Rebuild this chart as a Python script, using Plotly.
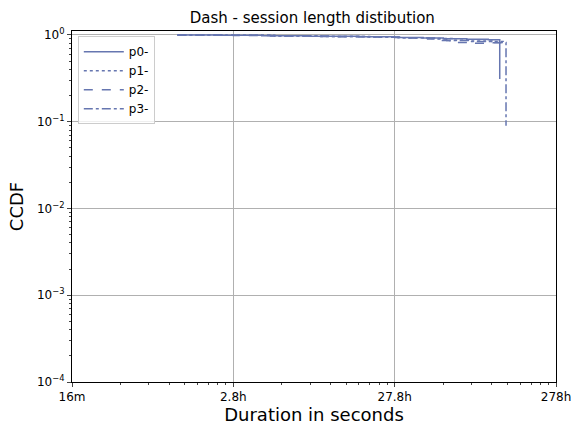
import plotly.graph_objects as go
import math

# Data (seconds, CCDF)
p0_x = [4500, 8000, 15000, 30000, 60000, 100000, 150000, 200000, 280000, 380000, 448000, 448000]
p0_y = [1.0, 0.99, 0.98, 0.965, 0.95, 0.935, 0.92, 0.905, 0.89, 0.88, 0.875, 0.31]
p1_x = [4500, 9000, 18000, 35000, 70000, 110000, 170000, 230000, 300000, 400000, 470000]
p1_y = [1.0, 0.99, 0.975, 0.96, 0.945, 0.93, 0.91, 0.87, 0.85, 0.84, 0.83]
p2_x = [4500, 10000, 20000, 40000, 80000, 120000, 180000, 220000, 290000, 380000, 470000]
p2_y = [1.0, 0.985, 0.97, 0.955, 0.94, 0.92, 0.86, 0.82, 0.8, 0.81, 0.8]
p3_x = [4500, 9000, 17000, 33000, 65000, 105000, 160000, 210000, 300000, 400000, 490000, 490000]
p3_y = [1.0, 0.99, 0.975, 0.96, 0.945, 0.93, 0.9, 0.86, 0.84, 0.82, 0.815, 0.09]

series = [("p0-", p0_x, p0_y, "solid"), ("p1-", p1_x, p1_y, "dot"),
          ("p2-", p2_x, p2_y, "dash"), ("p3-", p3_x, p3_y, "dashdot")]

x_tickvals = [1e3, 1e4, 1e5, 1e6]
x_ticktext = ["16m", "2.8h", "27.8h", "278h"]
y_tickvals = [1e-4, 1e-3, 1e-2, 1e-1, 1e0]
y_ticktext = ["10<sup>−4</sup>", "10<sup>−3</sup>", "10<sup>−2</sup>", "10<sup>−1</sup>", "10<sup>0</sup>"]

color = "#6676b0"
fig = go.Figure()
for name, xs, ys, dash in series:
    fig.add_trace(go.Scatter(x=xs, y=ys, name=name, mode="lines", line_shape="hv",
                             line=dict(color=color, width=1.5, dash=dash)))

x_minor = [m * 10 ** e for e in range(3, 6) for m in range(2, 10)]
y_minor = [m * 10 ** e for e in range(-4, 1) for m in range(2, 10) if m * 10 ** e < 1.11]

fig.update_layout(
    width=573, height=431,
    margin=dict(l=72, r=17, t=31, b=49),
    paper_bgcolor="white", plot_bgcolor="white",
    font=dict(family="DejaVu Sans", color="black"),
    title=dict(text="Dash - session length distibution", x=0.545, xanchor="center",
               y=0.958, yanchor="middle", font=dict(size=15)),
    legend=dict(x=0.012, y=0.985, xanchor="left", yanchor="top",
                bgcolor="rgba(255,255,255,0.8)", bordercolor="#cccccc", borderwidth=1,
                font=dict(size=12), tracegroupgap=0, itemwidth=40),
    showlegend=True,
)
fig.update_xaxes(type="log", range=[3, 6], tickvals=x_tickvals, ticktext=x_ticktext,
                 automargin=False,
                 showgrid=True, gridcolor="#b0b0b0", gridwidth=1,
                 showline=True, linecolor="black", linewidth=1, mirror=True,
                 ticks="outside", ticklen=4, tickfont=dict(size=12),
                 minor=dict(tickvals=x_minor, ticks="outside", ticklen=2, showgrid=False),
                 title=dict(text="Duration in seconds", font=dict(size=18), standoff=4),
                 zeroline=False)
fig.update_yaxes(type="log", range=[-4, math.log10(1.11)], tickvals=y_tickvals, ticktext=y_ticktext,
                 automargin=False,
                 showgrid=True, gridcolor="#b0b0b0", gridwidth=1,
                 showline=True, linecolor="black", linewidth=1, mirror=True,
                 ticks="outside", ticklen=4, tickfont=dict(size=12),
                 minor=dict(tickvals=y_minor, ticks="outside", ticklen=2, showgrid=False),
                 title=dict(text="CCDF", font=dict(size=18), standoff=8),
                 zeroline=False)

fig.write_html("out.html")
